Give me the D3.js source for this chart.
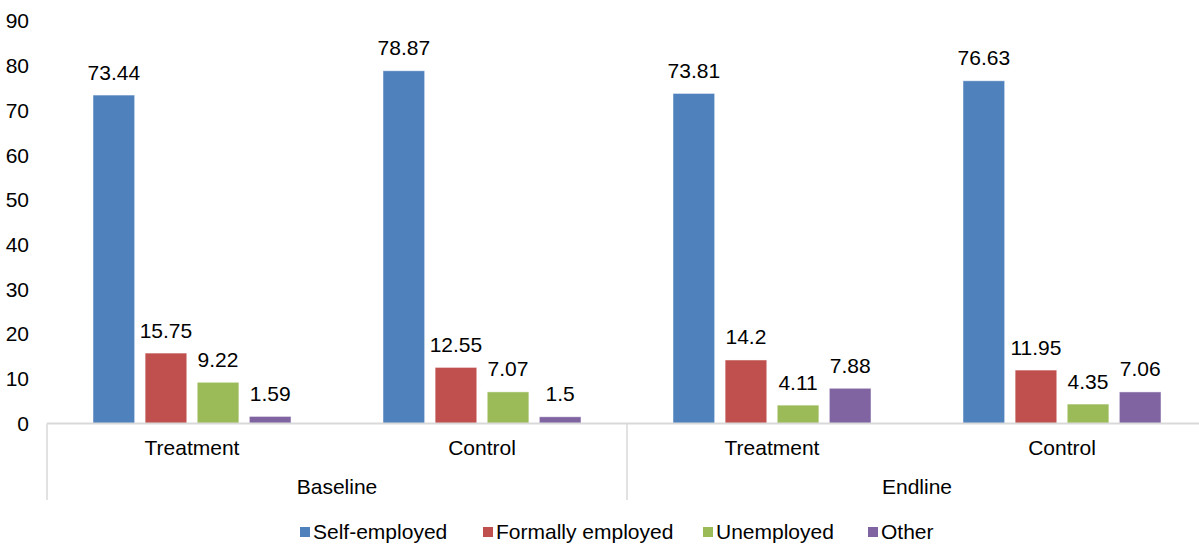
<!DOCTYPE html>
<html>
<head>
<meta charset="utf-8">
<script src="https://cdn.jsdelivr.net/npm/d3@7"></script>
<style>
html,body{margin:0;padding:0;background:#fff;}
svg{display:block;font-family:"Liberation Sans",Arial,sans-serif;}
</style>
</head>
<body>
<svg id="chart" width="1199" height="545"></svg>
<script>
const periods = ["Baseline", "Endline"];
const arms = ["Treatment", "Control"];
const series = ["Self-employed", "Formally employed", "Unemployed", "Other"];
const colors = ["#4F81BD", "#C0504D", "#9BBB59", "#8064A2"];
const selfEmployed = [73.44, 78.87, 73.81, 76.63];
const formallyEmployed = [15.75, 12.55, 14.2, 11.95];
const unemployed = [9.22, 7.07, 4.11, 4.35];
const other = [1.59, 1.5, 7.88, 7.06];
const yTicks = [0, 10, 20, 30, 40, 50, 60, 70, 80, 90];

const values = [selfEmployed, formallyEmployed, unemployed, other];
const groups = [];
periods.forEach(p => arms.forEach(a => groups.push({period: p, arm: a, key: p + "|" + a})));

const svg = d3.select("#chart");
const fs = 21;

const x0 = d3.scaleBand().domain(groups.map(g => g.key)).range([47, 1207]).padding(0);
const x1 = d3.scaleBand().domain(series).range([0, x0.bandwidth()]).paddingInner(0.2).paddingOuter(0.883);
const y = d3.scaleLinear().domain([0, 90]).range([423.5, 21]);

// y tick labels
svg.append("g").selectAll("text").data(yTicks).join("text")
  .attr("x", 29).attr("y", d => y(d)).attr("dy", "0.35em")
  .attr("text-anchor", "end").attr("font-size", fs).attr("fill", "#000")
  .text(d => d);

// bars
const gG = svg.append("g").selectAll("g").data(groups).join("g")
  .attr("transform", d => `translate(${x0(d.key)},0)`);

gG.each(function(g, gi) {
  const sel = d3.select(this);
  const data = series.map((s, si) => ({s, si, v: values[si][gi]}));
  sel.selectAll("rect").data(data).join("rect")
    .attr("x", d => x1(d.s)).attr("width", x1.bandwidth())
    .attr("y", d => y(d.v)).attr("height", d => y(0) - y(d.v))
    .attr("fill", d => colors[d.si])
    .attr("stroke", "#ffffff").attr("stroke-opacity", 0.6).attr("stroke-width", 0.8);
  sel.selectAll("text").data(data).join("text")
    .attr("x", d => x1(d.s) + x1.bandwidth() / 2).attr("y", d => y(d.v) - 15.5)
    .attr("text-anchor", "middle").attr("font-size", fs).attr("fill", "#000")
    .text(d => d.v);
});

// axis line
svg.append("line").attr("x1", 47).attr("x2", 1207).attr("y1", y(0)).attr("y2", y(0))
  .attr("stroke", "#d9d9d9").attr("stroke-width", 2);

// group separators
const sepX = [x0(groups[0].key), x0(groups[2].key), x0(groups[3].key) + x0.bandwidth()];
svg.append("g").selectAll("line").data(sepX).join("line")
  .attr("x1", d => d).attr("x2", d => d).attr("y1", y(0)).attr("y2", 500)
  .attr("stroke", "#d9d9d9").attr("stroke-width", 1.5);

// category labels
svg.append("g").selectAll("text").data(groups).join("text")
  .attr("x", d => x0(d.key) + x0.bandwidth() / 2).attr("y", 448).attr("dy", "0.35em")
  .attr("text-anchor", "middle").attr("font-size", fs).attr("fill", "#000")
  .text(d => d.arm);

// period labels
svg.append("g").selectAll("text").data(periods).join("text")
  .attr("x", (d, i) => (x0(groups[i * 2].key) + x0(groups[i * 2 + 1].key) + x0.bandwidth()) / 2)
  .attr("y", 487).attr("dy", "0.35em")
  .attr("text-anchor", "middle").attr("font-size", fs).attr("fill", "#000")
  .text(d => d);

// legend
const legX = [300, 483, 703, 868];
const leg = svg.append("g").selectAll("g").data(series).join("g")
  .attr("transform", (d, i) => `translate(${legX[i]},532)`);
leg.append("rect").attr("x", 0).attr("y", -5).attr("width", 10).attr("height", 10)
  .attr("fill", (d, i) => colors[i]);
leg.append("text").attr("x", 13).attr("y", 0).attr("dy", "0.35em")
  .attr("font-size", fs).attr("fill", "#000").text(d => d);
</script>
</body>
</html>
